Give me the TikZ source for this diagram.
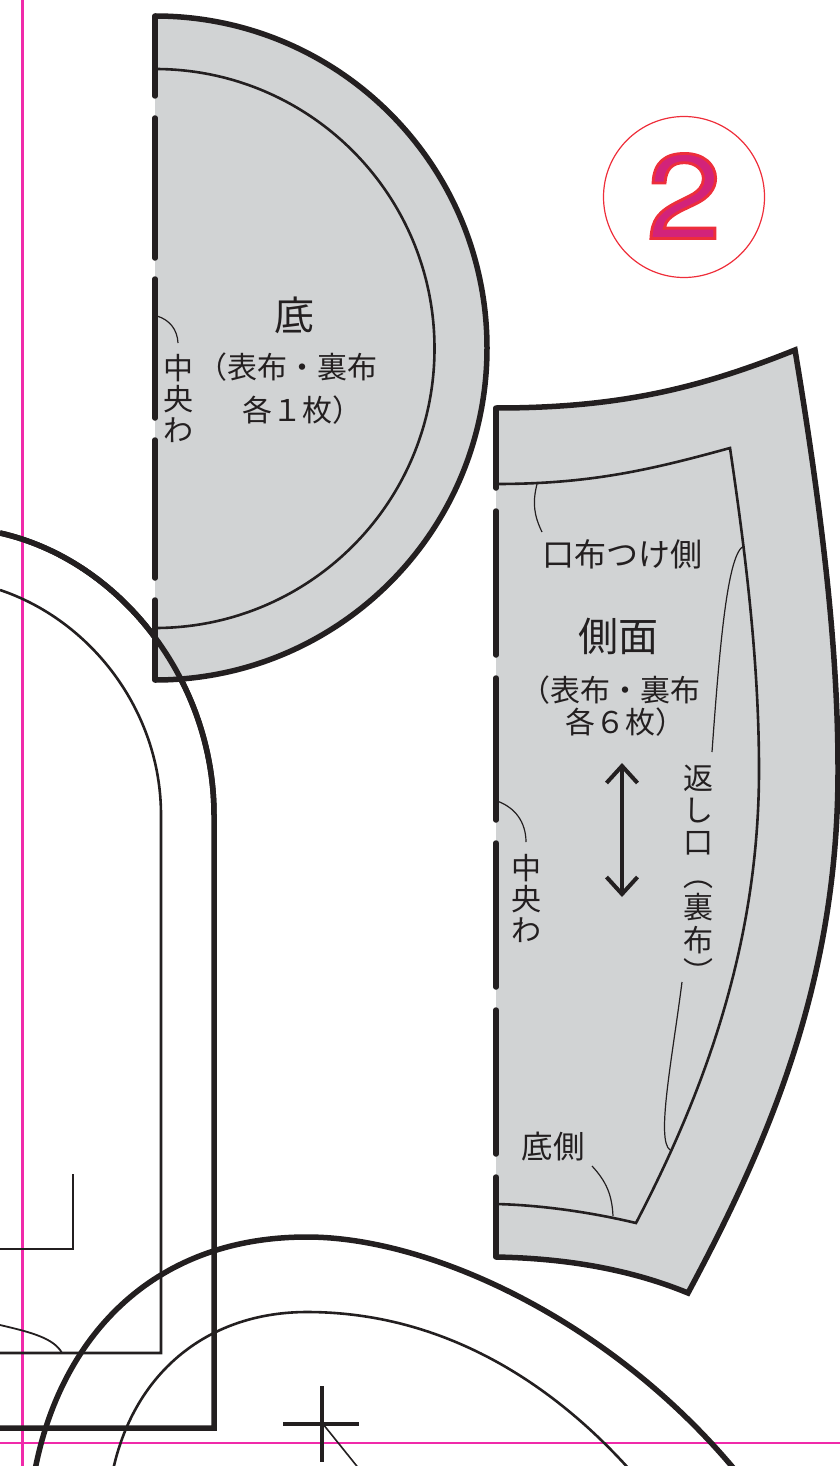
\documentclass[tikz,border=0pt]{standalone}
\usepackage{fontspec}
\usetikzlibrary{arrows.meta}
\setmainfont{TeX Gyre Heros}
\newfontfamily\jpfont{Noto Sans CJK JP}
\newfontfamily\badgefont[FakeBold=2.4,FakeStretch=1.13]{TeX Gyre Heros}
\definecolor{cloth}{HTML}{D1D3D4}
\definecolor{ink}{HTML}{231F20}
\definecolor{trim}{HTML}{F02AAA}
\definecolor{badge}{HTML}{EE2E3A}
\definecolor{badgefill}{HTML}{D2237A}
\tikzset{
  cut/.style={ink,line width=5.5pt},
  seam/.style={ink,line width=2.6pt},
  fold/.style={ink,line width=5.5pt,line cap=round},
  lead/.style={ink,line width=1.2pt},
  lab/.style={ink,font=\jpfont\fontsize{30}{31}\selectfont,inner sep=0pt,align=center},
  big/.style={ink,font=\jpfont\fontsize{40}{41}\selectfont,inner sep=0pt}
}
\begin{document}
\begin{tikzpicture}[x=1pt,y=-1pt]
  \useasboundingbox (0,0) rectangle (840,1466);
  \clip (0,0) rectangle (840,1466);

  \draw[trim,line width=2.2pt] (22.5,0) -- (22.5,1466);
  \draw[trim,line width=2.2pt] (0,1443) -- (840,1443);

  \draw[cut] (0,533) .. controls (120,560) and (214,680) .. (214,815)
    -- (214,1428) -- (0,1428);
  \draw[seam] (0,590) .. controls (90,620) and (161,710) .. (161,815)
    -- (161,1353) -- (0,1353);
  \draw[seam] (73,1174) -- (73,1249) -- (0,1249);
  \draw[seam,line width=1.8pt] (0,1325) .. controls (30,1332) and (54,1338) .. (62,1353);

  \fill[cloth] (155,16) arc[start angle=-90,end angle=90,radius=332] -- cycle;
  \draw[cut] (155,16) arc[start angle=-90,end angle=90,radius=332];
  \draw[seam] (155,69) arc[start angle=-90,end angle=90,radius=279.5];

  \draw[cut] (0,533) .. controls (120,560) and (214,680) .. (214,815);

  \fill[cloth] (496,408) .. controls (620,408) and (700,388) .. (795,350)
    .. controls (825,530) and (838,660) .. (838,770)
    .. controls (838,980) and (770,1140) .. (688,1293)
    .. controls (620,1265) and (550,1258) .. (496,1257) -- cycle;
  \draw[cut,line join=miter] (496,408) .. controls (620,408) and (700,388) .. (795,350)
    .. controls (825,530) and (838,660) .. (838,770)
    .. controls (838,980) and (770,1140) .. (688,1293)
    .. controls (620,1265) and (550,1258) .. (496,1257);
  \draw[seam] (496,484) .. controls (590,484) and (650,470) .. (730,448)
    .. controls (745,550) and (759,660) .. (759,770)
    .. controls (759,950) and (700,1100) .. (636,1223)
    .. controls (590,1212) and (540,1205) .. (496,1204);

  \foreach \a/\b in {16/96,118/258,279/418,440/578,600/680} {
    \draw[fold] (155,\a) -- (155,\b);
  }
  \foreach \a/\b in {408/488,511/655,678/820,843/987,1010/1154,1177/1257} {
    \draw[fold] (496,\a) -- (496,\b);
  }

  \draw[cut] (35,1470) .. controls (60,1340) and (150,1237) .. (307,1237)
    .. controls (430,1237) and (610,1320) .. (735,1470);
  \draw[seam] (113,1470) .. controls (135,1370) and (210,1312) .. (307,1312)
    .. controls (430,1312) and (540,1370) .. (630,1470);

  \draw[ink,line width=4pt] (321.5,1386) -- (321.5,1462);
  \draw[ink,line width=4pt] (283,1424) -- (359,1424);
  \draw[seam,line width=1.6pt] (323,1424) -- (360,1470);

  \begin{scope}[every node/.style={lab}]
    \node[big] (sokoT) at (294,315) {底};
    \node[anchor=east] (sokoA) at (378,367) {（表布・裏布};
    \node[anchor=west] (sokoB) at (242,410) {各１枚）};
    \node (wa1) at (178,398) {中\\央\\わ};
    \node[big] (sokuT) at (618,636) {側面};
    \node[anchor=east] (sokuA) at (701,690) {（表布・裏布};
    \node[anchor=west] (sokuB) at (565,722) {各６枚）};
    \node (wa2) at (526,898) {中\\央\\わ};
    \node[font=\jpfont\fontsize{32}{33}\selectfont] (kuchi) at (622,554) {口布つけ側};
    \node[font=\jpfont\fontsize{31.5}{33}\selectfont] (sokog) at (553,1147) {底側};
    \node[font=\jpfont\fontsize{30}{32.4}\selectfont] (kaeshi) at (698,874) {返\\し\\口\\︵\\裏\\布\\︶};
  \end{scope}

  \coordinate (k1) at (537,484);
  \coordinate (k2) at (542,532);
  \coordinate (r1) at (744,546);
  \coordinate (r2) at (712,752);
  \coordinate (r3) at (682,982);
  \coordinate (r4) at (670,1150);
  \coordinate (s1) at (592,1166);
  \coordinate (s2) at (613,1216);
  \coordinate (w1) at (157,316);
  \coordinate (w2) at (178,343);
  \coordinate (w3) at (497,801);
  \coordinate (w4) at (526,842);

  \begin{scope}[every edge/.style={draw,lead}]
    \path (k1) edge[bend right=20] (k2);
    \path (s1) edge[bend left=20] (s2);
    \path (w1) edge[bend left=35] (w2);
    \path (w3) edge[bend left=35] (w4);
  \end{scope}
  \draw[lead] (r1) .. controls (728,552) and (720,640) .. (r2);
  \draw[lead] (r3) .. controls (672,1060) and (656,1140) .. (r4);

  \coordinate (up) at (622,763);
  \coordinate (dn) at (622,897);
  \draw[ink,line width=4pt,{Straight Barb[length=17pt,width=31pt,line width=4pt]}-{Straight Barb[length=17pt,width=31pt,line width=4pt]}] (up) -- (dn);

  \node[circle,draw=badge,line width=1.2pt,minimum size=161pt,inner sep=0pt] (badgec) at (684,197) {};
  \node[inner sep=0pt,font=\badgefont\fontsize{120}{120}\selectfont,text=badgefill] (badgen) at (684,196)
    {\special{pdf:code 0.93 0.18 0.23 RG}2};
\end{tikzpicture}
\end{document}
